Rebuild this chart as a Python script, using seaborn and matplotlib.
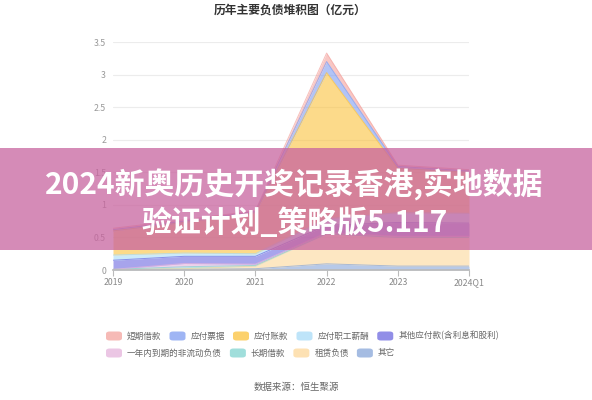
import matplotlib
matplotlib.use('Agg')
import matplotlib.pyplot as plt
from matplotlib.patches import FancyBboxPatch, Rectangle
import numpy as np
import pandas as pd
import seaborn as sns

# values in 亿元
periods = ['2019', '2020', '2021', '2022', '2023', '2024Q1']
short_loans = [0.02, 0.02, 0.01, 0.13, 0.02, 0.02]
notes_payable = [0.02, 0.02, 0.02, 0.17, 0.03, 0.02]
accounts_payable = [0.37, 0.47, 0.63, 2.245, 0.68, 0.63]
staff_pay = [0.08, 0.05, 0.04, 0.10, 0.15, 0.15]
other_payables = [0.14, 0.11, 0.12, 0.11, 0.21, 0.20]
due_within_year = [0.0, 0.05, 0.02, 0.02, 0.02, 0.02]
long_loans = [0.0, 0.03, 0.01, 0.0, 0.0, 0.0]
lease_liab = [0.0, 0.01, 0.04, 0.46, 0.44, 0.44]
others = [0.01, 0.01, 0.02, 0.095, 0.06, 0.06]

names = ['短期借款', '应付票据', '应付账款', '应付职工薪酬', '其他应付款(含利息和股利)',
         '一年内到期的非流动负债', '长期借款', '租赁负债', '其它']
series = [short_loans, notes_payable, accounts_payable, staff_pay, other_payables,
          due_within_year, long_loans, lease_liab, others]
colors = ['#f4a39e', '#7f9df1', '#fbc23c', '#a9dcf7', '#6c68e0',
          '#e5b3dc', '#80d4d0', '#fdd79a', '#87a6d9']

sns.set_theme(style='white')
plt.rcParams['font.family'] = ['Noto Sans CJK SC', 'DejaVu Sans']

fig = plt.figure(figsize=(5.92, 4.0), dpi=100)
ax = fig.add_axes([113 / 592, 130 / 400, 356 / 592, 228 / 400])

x = np.arange(len(periods))
# stack from the last legend entry at the bottom up to the first
order = list(range(len(names)))[::-1]
stack = np.vstack([series[i] for i in order])
ax.stackplot(x, stack, colors=[colors[i] for i in order], alpha=0.6, linewidth=0)

tops = np.cumsum(stack, axis=0)
rows = []
for k, i in enumerate(order):
    for j, p in enumerate(x):
        rows.append({'x': p, 'y': tops[k][j], 'name': names[i]})
edges = pd.DataFrame(rows)
sns.lineplot(data=edges, x='x', y='y', hue='name', palette=dict(zip(names, colors)),
             linewidth=0.7, alpha=0.7, legend=False, ax=ax)

ax.set_xlim(0, len(periods) - 1)
ax.set_ylim(0, 3.5)
ax.set_yticks(np.arange(0, 3.51, 0.5))
ax.set_yticklabels([f'{v:g}' for v in np.arange(0, 3.51, 0.5)])
ax.set_xticks(x)
ax.set_xticklabels(periods)
ax.set_xlabel('')
ax.set_ylabel('')
ax.grid(axis='y', color='#ececec', linewidth=0.8)
ax.set_axisbelow(True)
for side in ['top', 'right', 'left']:
    ax.spines[side].set_visible(False)
ax.spines['bottom'].set_color('#bbbbbb')
ax.tick_params(axis='x', colors='#bbbbbb', labelcolor='#888888', labelsize=6.3,
               length=4, width=0.8, direction='out', bottom=True, pad=2)
ax.tick_params(axis='y', labelcolor='#999999', labelsize=6.3, length=0, pad=5)

fig.text(0.49, 1 - 10 / 400, '历年主要负债堆积图（亿元）', ha='center', va='center',
         fontsize=8.5, fontweight='bold', color='#333333')

# legend, two rows like the original
legend_rows = [[0, 1, 2, 3, 4], [5, 6, 7, 8]]
row_y = [336, 353]
renderer = fig.canvas.get_renderer()
for r, items in enumerate(legend_rows):
    cx = 106
    yy = 1 - row_y[r] / 400
    for i in items:
        fig.patches.append(FancyBboxPatch((cx / 592, yy - 4.5 / 400), 16 / 592, 9 / 400,
                                          boxstyle='round,pad=0,rounding_size=0.006',
                                          transform=fig.transFigure, facecolor=colors[i],
                                          edgecolor='none', alpha=0.75))
        t = fig.text((cx + 21) / 592, yy, names[i], ha='left', va='center',
                     fontsize=6.2, color='#666666')
        w = t.get_window_extent(renderer=renderer).width
        cx = cx + 21 + w + 8

fig.text(0.5, 1 - 387 / 400, '数据来源：恒生聚源', ha='center', va='center',
         fontsize=6.8, color='#666666')

# overlay banner
fig.patches.append(Rectangle((0, 1 - 250 / 400), 1, 102 / 400, transform=fig.transFigure,
                             facecolor='#c8649f', alpha=0.75, edgecolor='none', zorder=5))
fig.text(0.497, 1 - 185 / 400, '2024新奥历史开奖记录香港,实地数据', ha='center', va='center',
         fontsize=21.5, fontweight='heavy', color='white', zorder=6)
fig.text(0.497, 1 - 223 / 400, '验证计划_策略版5.117', ha='center', va='center',
         fontsize=21.5, fontweight='heavy', color='white', zorder=6)

fig.savefig('out.png', dpi=100)
